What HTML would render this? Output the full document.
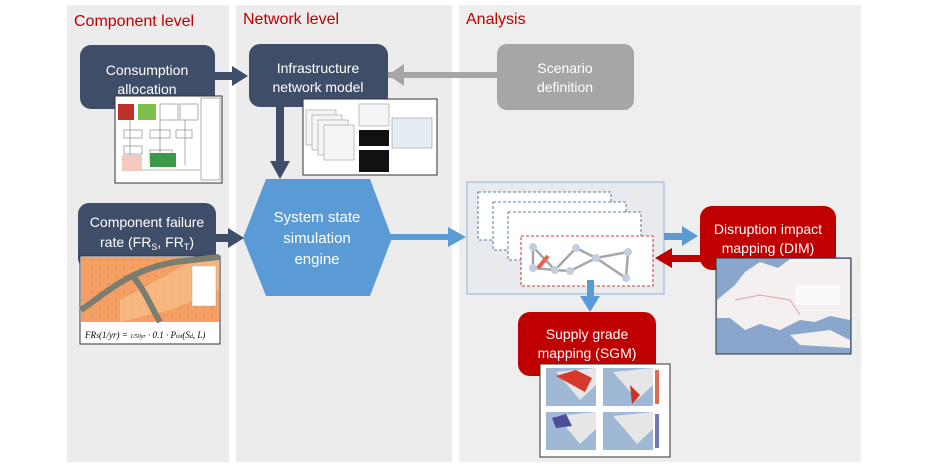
<!DOCTYPE html>
<html><head><meta charset="utf-8"><style>
html,body{margin:0;padding:0;background:#fff;width:931px;height:466px;overflow:hidden}
svg{display:block;font-family:"Liberation Sans",sans-serif}
</style></head><body>
<svg width="931" height="466" viewBox="0 0 931 466" xmlns="http://www.w3.org/2000/svg">
<defs>
<pattern id="dots" width="8" height="8" patternUnits="userSpaceOnUse"><rect width="8" height="8" fill="#f4a064"/><circle cx="4" cy="4" r="0.7" fill="#d87b40"/></pattern>
</defs>
<rect x="67" y="5" width="162" height="457" fill="#ececec"/>
<rect x="236" y="5" width="216" height="457" fill="#ececec"/>
<rect x="459" y="5" width="402" height="457" fill="#eeeeee"/>
<g fill="#c00000" font-size="16">
<text x="74" y="26">Component level</text>
<text x="243" y="24">Network level</text>
<text x="466" y="24">Analysis</text>
</g>

<rect x="388" y="72" width="112" height="6" fill="#a6a6a6"/>
<polygon points="388,75 404,64 404,86" fill="#a6a6a6"/>
<rect x="212" y="72" width="22" height="8" fill="#3e4e68"/>
<polygon points="248,76 232,66 232,86" fill="#3e4e68"/>
<rect x="276" y="105" width="8" height="58" fill="#3e4e68"/>
<polygon points="280,179 270,161 290,161" fill="#3e4e68"/>
<rect x="214" y="234" width="16" height="8" fill="#3e4e68"/>
<polygon points="244,238 228,228 228,248" fill="#3e4e68"/>
<rect x="390" y="234" width="60" height="6" fill="#5b9bd5"/>
<polygon points="466,237 448,227 448,247" fill="#5b9bd5"/>

<rect x="80" y="45" width="135" height="64" rx="11" fill="#3e4e68"/>
<text x="147" y="75" fill="#fff" font-size="14" text-anchor="middle">Consumption</text>
<text x="147" y="94" fill="#fff" font-size="14" text-anchor="middle">allocation</text>
<rect x="249" y="44" width="139" height="63" rx="11" fill="#3e4e68"/>
<text x="318" y="73" fill="#fff" font-size="14" text-anchor="middle">Infrastructure</text>
<text x="318" y="92" fill="#fff" font-size="14" text-anchor="middle">network model</text>
<rect x="497" y="44" width="137" height="66" rx="10" fill="#a6a6a6"/>
<text x="565" y="73" fill="#fff" font-size="14" text-anchor="middle">Scenario</text>
<text x="565" y="92" fill="#fff" font-size="14" text-anchor="middle">definition</text>
<rect x="78" y="203" width="138" height="66" rx="11" fill="#3e4e68"/>
<text x="147" y="227" fill="#fff" font-size="14" text-anchor="middle">Component failure</text>
<text x="147" y="247" fill="#fff" font-size="14" text-anchor="middle">rate (FR<tspan font-size="9" dy="3">S</tspan><tspan dy="-3">, FR</tspan><tspan font-size="9" dy="3">T</tspan><tspan dy="-3">)</tspan></text>

<rect x="115" y="96" width="107" height="87" fill="#fff" stroke="#333" stroke-width="1"/>
<rect x="118" y="104" width="16" height="16" fill="#c0302a"/>
<rect x="138" y="104" width="18" height="16" fill="#7cbf4a"/>
<g fill="none" stroke="#777" stroke-width="0.6">
<rect x="160" y="104" width="18" height="16"/><rect x="180" y="104" width="18" height="16"/>
<rect x="124" y="130" width="18" height="8"/><rect x="150" y="130" width="20" height="8"/><rect x="176" y="130" width="16" height="8"/>
<rect x="124" y="146" width="18" height="8"/><rect x="150" y="150" width="22" height="12"/>
<rect x="201" y="98" width="19" height="82"/>
<path d="M130 120v40M160 120v40M185 120v45M140 170h60"/>
</g>
<rect x="122" y="155" width="20" height="16" fill="#f5c9bf"/>
<rect x="150" y="153" width="26" height="14" fill="#3a9a4a"/>

<rect x="303" y="99" width="134" height="76" fill="#fff" stroke="#333"/>
<g fill="#f3f5f7" stroke="#999" stroke-width="0.6">
<rect x="306" y="110" width="30" height="35"/><rect x="312" y="115" width="30" height="35"/><rect x="318" y="120" width="30" height="35"/><rect x="324" y="125" width="30" height="35"/>
<rect x="359" y="104" width="30" height="22"/><rect x="392" y="118" width="40" height="30" fill="#e5ecf3"/>
</g>
<rect x="359" y="130" width="30" height="16" fill="#111"/>
<rect x="359" y="150" width="30" height="22" fill="#111"/>

<rect x="80" y="256" width="140" height="88" fill="#fff" stroke="#333"/>
<rect x="81" y="257" width="138" height="65" fill="url(#dots)"/>
<polygon points="120,300 200,257 219,257 219,290 170,310 120,322" fill="#f7c08a" opacity="0.7"/>
<path d="M81 310 C110 290,130 270,175 262 L219 257" stroke="#7a7d70" stroke-width="6" fill="none"/>
<path d="M131 274 C145 290,150 305,160 322" stroke="#7a7d70" stroke-width="6" fill="none"/>
<rect x="192" y="266" width="24" height="40" fill="#fff" stroke="#aaa" stroke-width="0.5"/>
<text x="85" y="338" font-family="Liberation Serif,serif" font-style="italic" font-size="9">FR<tspan font-size="6">S</tspan>(1/yr) = <tspan font-size="6">1/50yr</tspan> · 0.1 · P<tspan font-size="6">tot</tspan>(S<tspan font-size="6">d</tspan>, L)</text>

<polygon points="243,238 266,179 370,179 392,238 370,296 266,296" fill="#5b9bd5"/>
<text x="317" y="222" fill="#fff" font-size="15" text-anchor="middle">System state</text>
<text x="317" y="243" fill="#fff" font-size="15" text-anchor="middle">simulation</text>
<text x="317" y="264" fill="#fff" font-size="15" text-anchor="middle">engine</text>

<rect x="467" y="182" width="197" height="112" fill="#e8eaee" stroke="#8fb3db" stroke-width="1"/>
<g fill="#fff" stroke="#2e5a8a" stroke-width="0.8" stroke-dasharray="3,2">
<rect x="478" y="192" width="133" height="48"/>
<rect x="493" y="202" width="133" height="48"/>
<rect x="508" y="212" width="133" height="48"/>
</g>
<rect x="521" y="236" width="132" height="50" fill="#fff" stroke="#c00000" stroke-width="0.8" stroke-dasharray="3,2"/>
<g stroke="#a6a6a6" stroke-width="2.5" fill="none">
<path d="M533 247 L555 270 L576 248 L596 258 L628 252 L626 278 L596 258 L576 248 L555 270 L533 268 Z M555 270 L570 271 L596 258"/>
</g>
<g fill="#c3cfe0"><circle cx="533" cy="247" r="4"/><circle cx="555" cy="270" r="4"/><circle cx="576" cy="248" r="4"/><circle cx="596" cy="258" r="4"/><circle cx="628" cy="252" r="4"/><circle cx="626" cy="278" r="4"/><circle cx="533" cy="268" r="4"/><circle cx="570" cy="271" r="4"/></g>
<path d="M538 268 L548 256" stroke="#e8604a" stroke-width="4"/>

<rect x="664" y="233" width="20" height="7" fill="#5b9bd5"/>
<polygon points="698,236 682,226 682,246" fill="#5b9bd5"/>
<rect x="670" y="255" width="32" height="7" fill="#c00000"/>
<polygon points="655,258 672,248 672,268" fill="#c00000"/>
<rect x="587" y="280" width="7" height="18" fill="#5b9bd5"/>
<polygon points="590,312 580,296 600,296" fill="#5b9bd5"/>

<rect x="700" y="206" width="136" height="64" rx="12" fill="#c00000"/>
<text x="768" y="234" fill="#fff" font-size="14" text-anchor="middle">Disruption impact</text>
<text x="768" y="253" fill="#fff" font-size="14" text-anchor="middle">mapping (DIM)</text>
<rect x="518" y="312" width="138" height="64" rx="12" fill="#c00000"/>
<text x="587" y="339" fill="#fff" font-size="14" text-anchor="middle">Supply grade</text>
<text x="587" y="358" fill="#fff" font-size="14" text-anchor="middle">mapping (SGM)</text>

<rect x="716" y="258" width="135" height="96" fill="#8aa6cc" stroke="#333"/>
<path d="M717 300 L735 285 L745 272 L760 262 L778 268 L790 259 L850 259 L850 320 L830 316 L815 322 L800 320 L780 330 L760 324 L745 330 L730 318 L717 318 Z" fill="#f4f0f0"/>
<path d="M790 335 L830 330 L850 340 L850 348 L800 345 Z" fill="#f4f0f0"/>
<path d="M735 300 L760 295 L790 300 L800 315" stroke="#e8a0a0" stroke-width="1" fill="none"/>
<rect x="795" y="285" width="45" height="20" fill="#fff" opacity="0.6"/>

<rect x="540" y="364" width="130" height="93" fill="#fff" stroke="#333"/>
<g fill="#9fb8d6">
<rect x="546" y="368" width="50" height="38"/><rect x="603" y="368" width="50" height="38"/>
<rect x="546" y="412" width="50" height="38"/><rect x="603" y="412" width="50" height="38"/>
</g>
<g fill="#e6e6e6">
<path d="M556 372 L596 368 L596 385 L580 400 L570 388 Z"/><path d="M613 372 L653 368 L653 385 L637 400 L627 388 Z"/>
<path d="M556 416 L596 412 L596 429 L580 444 L570 432 Z"/><path d="M613 416 L653 412 L653 429 L637 444 L627 432 Z"/>
</g>
<path d="M556 376 L576 370 L592 378 L585 392 Z" fill="#d6392b"/>
<path d="M630 385 L640 395 L632 404 Z" fill="#c8332a"/>
<path d="M552 418 L566 414 L572 426 L556 428 Z" fill="#4a4d9a"/>
<rect x="655" y="370" width="4" height="34" fill="#e06a50"/>
<rect x="655" y="414" width="4" height="34" fill="#7478b5"/>
</svg>
</body></html>
